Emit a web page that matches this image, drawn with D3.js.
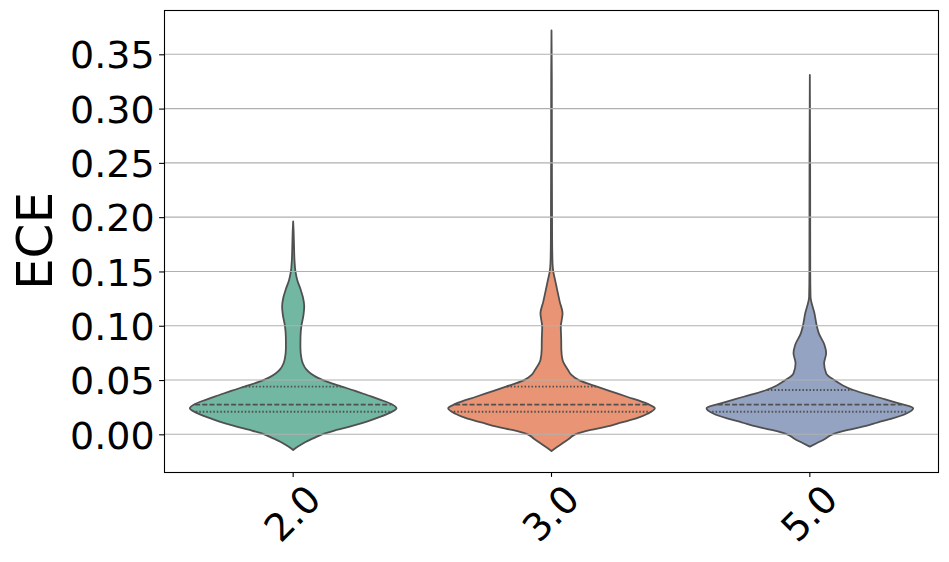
<!DOCTYPE html>
<html>
<head>
<meta charset="utf-8">
<script src="https://cdn.jsdelivr.net/npm/d3@7"></script>
<style>
  html, body { margin: 0; padding: 0; background: #fff; }
  svg { display: block; font-family: "DejaVu Sans", sans-serif; }
</style>
</head>
<body>
<svg id="chart" width="949" height="562"></svg>
<script>
// ---- data ----
const categories = ["2.0", "3.0", "5.0"];
const colors = ["#71b7a1", "#e99575", "#95a3c3"];
const yTicks = [0.00, 0.05, 0.10, 0.15, 0.20, 0.25, 0.30, 0.35];

// density profiles: [ECE value, relative half-width (max = 1)]
const density2 = [
  [-0.0145, 0], [-0.011, 0.05], [-0.007, 0.12], [-0.003, 0.21], [0.000, 0.28],
  [0.004, 0.42], [0.008, 0.58], [0.012, 0.72], [0.016, 0.84], [0.020, 0.94],
  [0.024, 1.00], [0.028, 0.95], [0.032, 0.84], [0.036, 0.72], [0.040, 0.60],
  [0.044, 0.47], [0.048, 0.34], [0.052, 0.24], [0.056, 0.17], [0.060, 0.125],
  [0.065, 0.095], [0.070, 0.08], [0.080, 0.07], [0.090, 0.071], [0.100, 0.08],
  [0.110, 0.10], [0.118, 0.107], [0.126, 0.095], [0.134, 0.07], [0.142, 0.04],
  [0.150, 0.022], [0.160, 0.013], [0.175, 0.008], [0.188, 0.004], [0.196, 0]
];
const density3 = [
  [-0.0154, 0], [-0.012, 0.05], [-0.008, 0.11], [-0.004, 0.17], [0.000, 0.23],
  [0.004, 0.38], [0.007, 0.53], [0.011, 0.68], [0.0147, 0.82], [0.019, 0.93],
  [0.024, 1.00], [0.028, 0.93], [0.0346, 0.73], [0.040, 0.56], [0.0439, 0.44],
  [0.0497, 0.27], [0.055, 0.19], [0.0592, 0.16], [0.0684, 0.107], [0.078, 0.095],
  [0.0869, 0.094], [0.099, 0.09], [0.1114, 0.107], [0.122, 0.08], [0.133, 0.055],
  [0.142, 0.035], [0.150, 0.017], [0.1575, 0.01], [0.180, 0.006], [0.250, 0.004],
  [0.330, 0.003], [0.372, 0]
];
const density5 = [
  [-0.0114, 0], [-0.008, 0.07], [-0.004, 0.15], [0.000, 0.22], [0.004, 0.37],
  [0.007, 0.51], [0.011, 0.66], [0.0147, 0.80], [0.019, 0.93], [0.024, 1.00],
  [0.028, 0.88], [0.0346, 0.64], [0.0408, 0.42], [0.045, 0.32], [0.0497, 0.24],
  [0.0562, 0.158], [0.0654, 0.138], [0.0746, 0.158], [0.0823, 0.142], [0.093, 0.087],
  [0.0995, 0.068], [0.1114, 0.045], [0.1267, 0.007], [0.150, 0.004], [0.250, 0.003],
  [0.331, 0]
];
const densities = [density2, density3, density5];
const q1 = [0.0208, 0.0208, 0.0208];
const medians = [0.0273, 0.0273, 0.0273];
const q3 = [0.0439, 0.0439, 0.0408];

// ---- layout ----
const W = 949, H = 562;
const m = { left: 164, right: 10, top: 10, bottom: 90 };
const svg = d3.select("#chart");

const x = d3.scaleBand().domain(categories).range([m.left, W - m.right]).padding(0);
const y = d3.scaleLinear().domain([-0.0347, 0.3908]).range([H - m.bottom, m.top]);
const halfMax = x.bandwidth() * 0.4;
const w = d3.scaleLinear().domain([0, 1]).range([0, halfMax]);

const lineColor = "#505050";

function interp(profile, v) {
  for (let i = 1; i < profile.length; i++) {
    if (v <= profile[i][0]) {
      const [v0, d0] = profile[i - 1], [v1, d1] = profile[i];
      return d0 + (d1 - d0) * (v - v0) / (v1 - v0);
    }
  }
  return 0;
}

// violin bodies
const gV = svg.append("g");
categories.forEach((c, i) => {
  const cx = x(c) + x.bandwidth() / 2;
  const area = d3.area()
    .y(d => y(d[0]))
    .x0(d => cx - w(d[1]))
    .x1(d => cx + w(d[1]))
    .curve(d3.curveMonotoneY);
  gV.append("path")
    .datum(densities[i])
    .attr("d", area)
    .attr("fill", colors[i])
    .attr("stroke", lineColor)
    .attr("stroke-width", 1.8)
    .attr("stroke-linejoin", "round");
});

// grid (above violin bodies, as in matplotlib)
svg.append("g").selectAll("line").data(yTicks).join("line")
  .attr("x1", m.left).attr("x2", W - m.right)
  .attr("y1", d => y(d)).attr("y2", d => y(d))
  .attr("stroke", "#b0b0b0").attr("stroke-width", 1.1);

// inner quartile lines
const gQ = svg.append("g");
categories.forEach((c, i) => {
  const cx = x(c) + x.bandwidth() / 2;
  const prof = densities[i];
  [[q1[i], "1.5,2"], [medians[i], "5,2.2"], [q3[i], "1.5,2"]].forEach(([v, dash]) => {
    const hw = w(interp(prof, v)) - 1;
    gQ.append("line")
      .attr("x1", cx - hw).attr("x2", cx + hw)
      .attr("y1", y(v)).attr("y2", y(v))
      .attr("stroke", lineColor)
      .attr("stroke-width", 1.8)
      .attr("stroke-dasharray", dash);
  });
});

// axes
const yAxis = d3.axisLeft(y).tickValues(yTicks).tickFormat(d3.format(".2f")).tickSize(4.9).tickPadding(4.5);
const gy = svg.append("g").attr("transform", `translate(${m.left},0)`).call(yAxis);
gy.select(".domain").remove();
gy.selectAll(".tick line").attr("stroke", "#000").attr("stroke-width", 1.1);
gy.selectAll(".tick text").attr("font-size", 38).attr("fill", "#000")
  .attr("font-family", "DejaVu Sans").attr("dy", "0.36em");

const xAxis = d3.axisBottom(x).tickSize(4.9).tickFormat(d => d);
const gx = svg.append("g").attr("transform", `translate(0,${H - m.bottom})`).call(xAxis);
gx.select(".domain").remove();
gx.selectAll(".tick line").attr("stroke", "#000").attr("stroke-width", 1.1);
gx.selectAll(".tick text")
  .attr("font-size", 38).attr("fill", "#000").attr("font-family", "DejaVu Sans")
  .attr("text-anchor", "middle")
  .attr("y", 0).attr("dy", "0.36em")
  .attr("transform", "translate(-1,41) rotate(-45)");

// frame
svg.append("rect")
  .attr("x", m.left + 0.5).attr("y", m.top + 0.5)
  .attr("width", W - m.right - m.left - 1).attr("height", H - m.bottom - m.top)
  .attr("fill", "none").attr("stroke", "#000").attr("stroke-width", 1.1);

// y label
svg.append("text")
  .attr("transform", `translate(52,${(m.top + H - m.bottom) / 2}) rotate(-90)`)
  .attr("text-anchor", "middle")
  .attr("font-size", 50)
  .attr("fill", "#000")
  .text("ECE");
</script>
</body>
</html>
